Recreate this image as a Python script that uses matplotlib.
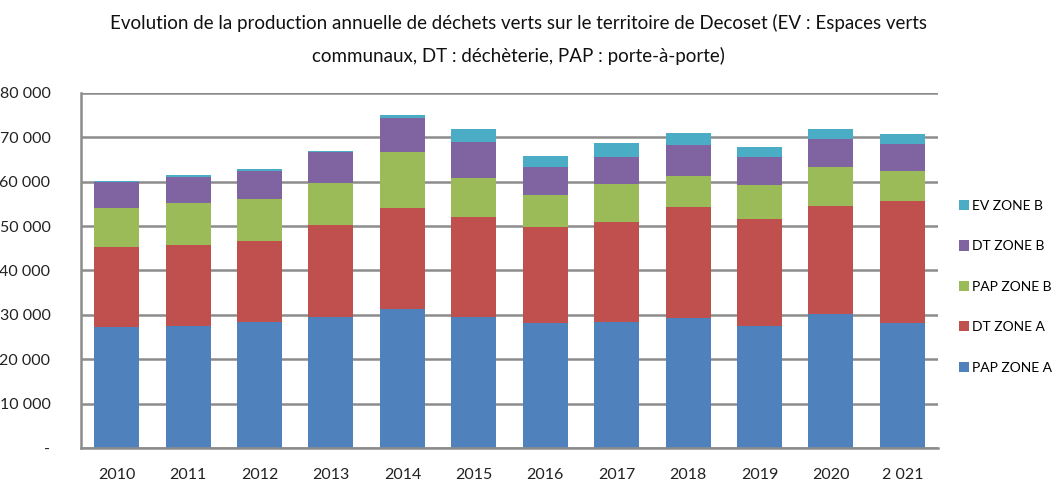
import matplotlib
matplotlib.use("Agg")
import matplotlib.pyplot as plt
import numpy as np

plt.rcParams['font.family'] = ['Lato', 'DejaVu Sans']

# données (tonnes)
years = ['2010', '2011', '2012', '2013', '2014', '2015', '2016', '2017', '2018', '2019', '2020', '2 021']
pap_a = [27300, 27500, 28300, 29500, 31300, 29500, 28100, 28500, 29200, 27500, 30100, 28100]
dt_a = [18000, 18300, 18400, 20800, 22800, 22500, 21600, 22300, 25000, 24000, 24400, 27600]
pap_b = [8700, 9300, 9400, 9500, 12600, 8900, 7300, 8700, 7100, 7800, 8800, 6800]
dt_b = [6000, 6000, 6300, 6800, 7700, 8100, 6200, 6000, 6900, 6200, 6400, 6000]
ev_b = [250, 300, 350, 300, 700, 2900, 2500, 3200, 2800, 2200, 2200, 2300]

series = [
    ("PAP ZONE A", pap_a, '#4f81bd'),
    ("DT ZONE A", dt_a, '#c0504d'),
    ("PAP ZONE B", pap_b, '#9bbb59'),
    ("DT ZONE B", dt_b, '#8064a2'),
    ("EV ZONE B", ev_b, '#4bacc6'),
]

fig = plt.figure(figsize=(10.58, 4.86), dpi=100)
ax = fig.add_axes([0.0766, 0.078, 0.81, 0.731])
ax.set_axisbelow(True)

x = np.arange(len(years))
bottom = np.zeros(len(years))
handles = []
for label, vals, color in series:
    b = ax.bar(x, vals, width=0.63, bottom=bottom, color=color, label=label)
    handles.append(b)
    bottom += np.array(vals)

ax.set_xlim(-0.5, len(years) - 0.5)
ax.set_ylim(0, 80000)
ax.set_yticks(range(0, 80001, 10000))
ax.set_yticklabels(['-'] + [f"{v // 1000} 000" for v in range(10000, 80001, 10000)])
ax.set_xticks(x)
ax.set_xticklabels(years)
ax.tick_params(axis='both', length=0, labelsize=11.5, colors='#222222')
ax.tick_params(axis='x', pad=14)
ax.tick_params(axis='y', pad=22)

ax.grid(axis='y', color='#8c8c8c', linewidth=1.8)
for s in ['top', 'right']:
    ax.spines[s].set_visible(False)
for s in ['left', 'bottom']:
    ax.spines[s].set_color('#8c8c8c')
    ax.spines[s].set_linewidth(1.8)

# légende dans l'ordre inverse (comme Excel)
leg = fig.legend(handles[::-1], [h.get_label() for h in handles[::-1]],
                 loc='center left', bbox_to_anchor=(0.906, 0.41), frameon=False,
                 fontsize=10, handlelength=0.75, handleheight=0.75, handletextpad=0.25,
                 labelspacing=2.05, borderpad=0, borderaxespad=0)

fig.text(0.49, 0.952, "Evolution de la production annuelle de déchets verts sur le territoire de Decoset (EV : Espaces verts",
         ha='center', va='center', fontsize=13.5, color='#111111')
fig.text(0.49, 0.885, "communaux, DT : déchèterie, PAP : porte-à-porte)",
         ha='center', va='center', fontsize=13.5, color='#111111')

fig.savefig("out.png", dpi=100)
